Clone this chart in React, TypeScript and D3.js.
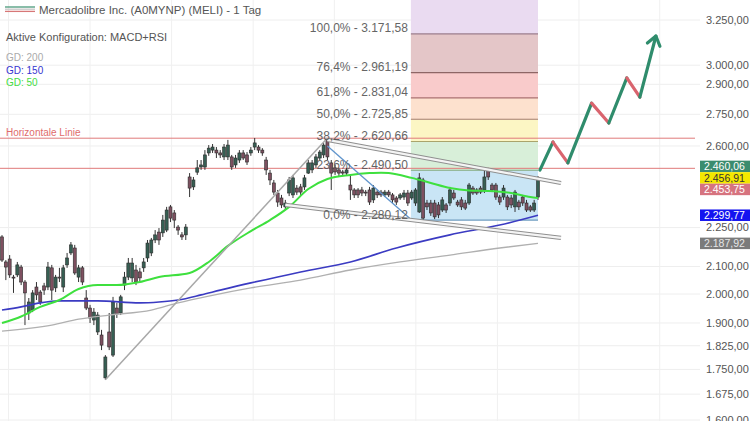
import React from "react";
import * as d3 from "d3";

const W = 750;
const H = 421;

// Daily candles (price values)
const openP = [2213,2117,2128,2061,2069,2098,2043,1934,1944,2025,
2007,2029,2025,2095,2022,2061,2025,2106,2151,2170,
2061,2095,1986,1951,1910,1870,1860,1724,1870,1795,
1951,1934,2032,2061,2058,2087,2080,2095,2132,2151,
2201,2232,2229,2240,2334,2309,2252,2221,2221,2461,
2418,2482,2505,2505,2568,2581,2581,2568,2550,2550,
2550,2514,2536,2568,2559,2568,2595,2595,2581,2536,
2478,2435,2392,2371,2334,2392,2384,2413,2418,2418,
2478,2492,2514,2545,2559,2628,2523,2501,2492,2483,
2478,2426,2405,2405,2405,2396,2405,2363,2396,2396,
2384,2396,2384,2371,2371,2375,2392,2371,2350,2313,
2448,2350,2350,2350,2342,2321,2342,2350,2392,2354,
2363,2350,2350,2413,2405,2413,2405,2492,2426,2426,
2375,2375,2375,2371,2334,2354,2375,2350,2334,2321,2375];
const highP = [2220,2124,2143,2069,2117,2106,2050,1986,2014,2043,
2014,2040,2117,2106,2069,2095,2106,2151,2193,2182,
2106,2102,2014,1962,1951,1937,1877,1795,1934,1990,
1969,1997,2080,2132,2132,2106,2095,2132,2201,2209,
2240,2248,2301,2334,2342,2321,2260,2232,2264,2478,
2461,2536,2536,2581,2604,2609,2595,2581,2609,2628,
2559,2559,2581,2581,2572,2595,2637,2604,2590,2550,
2492,2448,2405,2384,2363,2461,2470,2426,2431,2470,
2536,2536,2563,2581,2614,2637,2536,2514,2501,2492,
2501,2470,2413,2413,2418,2405,2418,2426,2405,2405,
2405,2405,2392,2379,2392,2405,2405,2405,2413,2478,
2457,2363,2363,2363,2354,2375,2350,2418,2405,2363,
2375,2363,2435,2422,2413,2422,2492,2501,2435,2435,
2384,2426,2384,2384,2405,2363,2384,2363,2342,2363,2465];
const lowP = [2117,2050,2058,2004,2061,2032,1893,1910,1937,1979,
1962,1997,2014,1979,2007,2043,2007,2095,2143,2069,
2043,2032,1944,1900,1893,1860,1811,1718,1811,1789,
1917,1927,2014,2050,2043,2032,2043,2080,2117,2139,
2189,2182,2213,2232,2272,2248,2221,2201,2201,2375,
2405,2470,2492,2492,2555,2568,2545,2545,2536,2536,
2492,2501,2523,2536,2514,2555,2581,2568,2555,2470,
2426,2384,2334,2329,2321,2379,2371,2384,2384,2405,
2474,2478,2501,2536,2545,2536,2405,2470,2465,2465,
2470,2363,2371,2371,2379,2379,2342,2350,2371,2375,
2375,2375,2350,2342,2363,2363,2338,2363,2338,2309,
2272,2321,2297,2284,2288,2313,2309,2338,2363,2334,
2321,2321,2342,2384,2384,2388,2392,2448,2396,2363,
2342,2363,2321,2329,2313,2321,2338,2313,2313,2313,2363];
const closeP = [2124,2098,2069,2058,2106,2043,2004,1972,2004,1997,
1972,2014,2098,2014,2061,2058,2095,2132,2182,2076,
2095,2043,1951,1917,1937,1927,1827,1789,1821,1972,
1931,1990,2061,2113,2113,2043,2058,2117,2189,2201,
2221,2201,2280,2321,2288,2280,2240,2213,2252,2413,
2448,2501,2514,2559,2590,2595,2568,2559,2595,2604,
2505,2545,2568,2545,2527,2581,2614,2581,2568,2492,
2448,2396,2354,2342,2350,2448,2457,2396,2396,2457,
2523,2523,2550,2572,2604,2550,2478,2483,2478,2478,
2492,2405,2384,2384,2392,2392,2354,2413,2384,2384,
2396,2384,2363,2354,2384,2392,2350,2396,2405,2457,
2288,2334,2309,2293,2301,2363,2321,2405,2371,2342,
2334,2329,2426,2392,2392,2396,2461,2461,2405,2375,
2354,2413,2334,2342,2396,2334,2350,2321,2321,2350,2453.75];

// Moving averages (sampled at candle indices)
const ma50Idx = [0,5,10,15,20,25,30,36,41,49,54,59,65,70,75,80,85,91,96,99,101,107,112,117,122,127,133,138,140];
const ma50Val = [1900,1922,1955,1979,2018,2032,2032,2043,2061,2076,2117,2178,2236,2280,2334,2409,2452,2470,2478,2480,2478,2457,2435,2413,2403,2401,2392,2375,2371];
const ma150Idx = [0,5,10,15,25,36,41,46,52,57,65,72,78,91,103,117,130,140];
const ma150Val = [1944,1955,1969,1976,1976,1969,1972,1979,1997,2014,2040,2061,2080,2117,2170,2221,2260,2299.77];
const ma200Idx = [0,13,20,28,39,46,54,65,78,91,104,117,130,140];
const ma200Val = [1873,1893,1913,1927,1944,1969,1993,2022,2050,2087,2117,2143,2170,2187.92];

// Drawn tools
const steepIdx = [27, 85];
const steepVal = [1718, 2637];
const descIdx = [85, 107];
const descVal = [2600, 2280];
const upperIdx = [85, 146];
const upperVal = [2628, 2435];
const lowerIdx = [74, 146];
const lowerVal = [2342, 2209];
const arrowIdx = [140.5, 143.9, 147.8, 154.0, 158.5, 163.2, 166.6, 170.8];
const arrowVal = [2491, 2618, 2523, 2805, 2708, 2933, 2835, 3159];

const hLines = [2636, 2499];

const yTicks = [3250, 3000, 2900, 2750, 2600, 2250, 2100, 2000, 1900, 1825, 1750, 1675, 1600];
const timeGridIdx = [1.7, 23, 44.3, 65.6, 86.8, 108.1, 129.4, 150.7, 171.8];

const fibPct = [0, 23.6, 38.2, 50, 61.8, 76.4, 100];
const fibPrices = [2280.12, 2490.5, 2620.66, 2725.85, 2831.04, 2961.19, 3171.58];
const fibFill = ["#c9e5f5", "#d8efd9", "#fcf6c4", "#fde1ce", "#f9cbcb", "#e4c6c8", "#eadbf1"];
const fibLine = ["#6f9cc0", "#7fa97f", "#aaa46c", "#a47e6c", "#aa7070", "#8e6666", "#9a7c8c"];
const fibStartIdx = 106.8;
const fibEndIdx = 140;

const badgeValues = [2460.06, 2456.91, 2453.75, 2299.77, 2187.92];
const badgeFill = ["#3a8c6e", "#f3e800", "#d6737f", "#1414f0", "#7b7b7b"];
const badgeText = ["#ffffff", "#333333", "#ffffff", "#ffffff", "#e6e6e6"];

const FONT = "'Liberation Sans', Arial, sans-serif";

const de = d3.formatLocale({ decimal: ",", thousands: ".", grouping: [3], currency: ["", "€"] });
const fmt2 = de.format(",.2f");
const fmt1 = de.format(".1f");

export default function App() {
  const x = d3.scaleLinear().domain([0, 140]).range([2, 538]);
  const y = d3.scaleLog().domain([1600, 3250]).range([420, 20]);

  const line = d3
    .line<[number, number]>()
    .x((d) => x(d[0]))
    .y((d) => y(d[1]))
    .curve(d3.curveMonotoneX);
  const straight = d3
    .line<[number, number]>()
    .x((d) => x(d[0]))
    .y((d) => y(d[1]));

  const zip = (a: number[], b: number[]) => a.map((v, i) => [v, b[i]] as [number, number]);

  // badge layout (resolve overlaps by grouping)
  const bh = 11.5;
  const order = badgeValues.map((v, i) => ({ i, y: y(v) })).sort((a, b) => a.y - b.y);
  const groups: { i: number; y: number }[][] = [];
  order.forEach((o) => {
    const g = groups[groups.length - 1];
    if (g && o.y - g[g.length - 1].y < bh) g.push(o);
    else groups.push([o]);
  });
  const badgeY: number[] = [];
  groups.forEach((g) => {
    const mean = d3.mean(g, (d) => d.y) as number;
    g.forEach((o, k) => {
      badgeY[o.i] = mean + (k - (g.length - 1) / 2) * bh;
    });
  });

  const fx0 = x(fibStartIdx);
  const fx1 = x(fibEndIdx);

  // arrow
  const ap = zip(arrowIdx, arrowVal);
  const last = ap[ap.length - 1];
  const prev = ap[ap.length - 2];
  const ang = Math.atan2(y(last[1]) - y(prev[1]), x(last[0]) - x(prev[0]));
  const tipX = x(last[0]);
  const tipY = y(last[1]);
  const hl = 11;

  return (
    <svg width={W} height={H} style={{ position: "absolute", left: 0, top: 0, background: "#fff" }} fontFamily={FONT}>
      {/* grid */}
      {yTicks.map((t) => (
        <line key={"g" + t} x1={0} x2={700} y1={y(t)} y2={y(t)} stroke="#eeeeee" strokeWidth={1} />
      ))}
      {timeGridIdx.map((t) => (
        <line key={"v" + t} x1={x(t)} x2={x(t)} y1={0} y2={H} stroke="#f0f0f0" strokeWidth={1} />
      ))}

      {/* fib bands */}
      {fibPrices.map((p, k) => {
        const top = k < fibPrices.length - 1 ? y(fibPrices[k + 1]) : 0;
        return <rect key={"fb" + k} x={fx0} width={fx1 - fx0} y={top} height={y(p) - top} fill={fibFill[k]} />;
      })}
      {fibPrices.map((p, k) => (
        <line key={"fl" + k} x1={fx0} x2={fx1} y1={y(p)} y2={y(p)} stroke={fibLine[k]} strokeWidth={1.2} />
      ))}

      {/* horizontal lines */}
      {hLines.map((h) => (
        <line key={"h" + h} x1={0} x2={695} y1={y(h)} y2={y(h)} stroke="#e07a7a" strokeWidth={1} />
      ))}
      <text x={6} y={y(hLines[0]) - 2} fontSize={10} fill="#e06b6b">Horizontale Linie</text>

      {/* candles */}
      {closeP.map((c, i) => {
        const o = openP[i];
        const bull = c >= o;
        const top = y(Math.max(o, c));
        const bot = y(Math.min(o, c));
        const cx = x(i);
        return (
          <g key={"c" + i}>
            <line x1={cx} x2={cx} y1={y(highP[i])} y2={y(lowP[i])} stroke="#333" strokeWidth={1} />
            <rect
              x={cx - 1.5}
              width={3}
              y={top}
              height={Math.max(1, bot - top)}
              fill={bull ? "#365f53" : "#7e5060"}
              stroke="#2b2b2b"
              strokeWidth={0.6}
            />
          </g>
        );
      })}

      {/* moving averages */}
      <path d={line(zip(ma200Idx, ma200Val)) || ""} fill="none" stroke="#b0b0b0" strokeWidth={1.3} />
      <path d={line(zip(ma150Idx, ma150Val)) || ""} fill="none" stroke="#3b3bc2" strokeWidth={1.6} />
      <path d={line(zip(ma50Idx, ma50Val)) || ""} fill="none" stroke="#3ee03e" strokeWidth={2} />

      {/* trend lines */}
      <path d={straight(zip(steepIdx, steepVal)) || ""} fill="none" stroke="#a8a8a8" strokeWidth={1.5} />
      <path d={straight(zip(descIdx, descVal)) || ""} fill="none" stroke="#5f94cc" strokeWidth={1.3} />
      {[zip(upperIdx, upperVal), zip(lowerIdx, lowerVal)].map((pts, k) => (
        <g key={"ch" + k}>
          <path d={straight(pts) || ""} fill="none" stroke="#8f8f8f" strokeWidth={4.2} />
          <path d={straight(pts) || ""} fill="none" stroke="#f4f4f4" strokeWidth={2.2} />
        </g>
      ))}

      {/* fib labels */}
      {fibPrices.map((p, k) => (
        <text key={"ft" + k} x={fx0 - 3} y={y(p) - 1.5} fontSize={12} fill="#555" textAnchor="end" opacity={0.9}>
          {fmt1(fibPct[k]) + "% - " + fmt2(p)}
        </text>
      ))}

      {/* projection arrow */}
      {ap.slice(1).map((pt, k) => {
        const a = ap[k];
        const up = pt[1] > a[1];
        return (
          <line
            key={"a" + k}
            x1={x(a[0])}
            y1={y(a[1])}
            x2={x(pt[0])}
            y2={y(pt[1])}
            stroke={up ? "#2f8c6c" : "#d9646e"}
            strokeWidth={3.2}
            strokeLinecap="round"
          />
        );
      })}
      <polyline
        points={`${tipX + hl * Math.cos(ang + Math.PI * 0.8)},${tipY + hl * Math.sin(ang + Math.PI * 0.8)} ${tipX},${tipY} ${tipX + hl * Math.cos(ang - Math.PI * 0.8)},${tipY + hl * Math.sin(ang - Math.PI * 0.8)}`}
        fill="none"
        stroke="#2f8c6c"
        strokeWidth={3.2}
        strokeLinecap="round"
        strokeLinejoin="round"
      />

      {/* y axis labels */}
      {yTicks.map((t) => (
        <text key={"t" + t} x={706} y={y(t)} dy="0.35em" fontSize={11} fill="#555">
          {fmt2(t)}
        </text>
      ))}

      {/* badges */}
      {badgeValues.map((v, i) => (
        <g key={"b" + i}>
          <rect x={700} y={badgeY[i] - bh / 2} width={50} height={bh} fill={badgeFill[i]} />
          <text x={704} y={badgeY[i]} dy="0.36em" fontSize={10.5} fill={badgeText[i]}>
            {fmt2(v)}
          </text>
        </g>
      ))}

      {/* title & legend */}
      <line x1={5} x2={35} y1={7} y2={7} stroke="#4a9a7a" strokeWidth={1.3} />
      <line x1={5} x2={35} y1={9.2} y2={9.2} stroke="#c8c8c8" strokeWidth={1.3} />
      <line x1={5} x2={35} y1={11.4} y2={11.4} stroke="#d77777" strokeWidth={1.3} />
      <text x={39} y={13.5} fontSize={11.5} fill="#555">Mercadolibre Inc. (A0MYNP) (MELI) - 1 Tag</text>
      <text x={6} y={40.5} fontSize={11} fill="#555">Aktive Konfiguration: MACD+RSI</text>
      <text x={6} y={60.5} fontSize={10} fill="#aaaaaa">GD: 200</text>
      <text x={6} y={73.5} fontSize={10} fill="#3434d0">GD: 150</text>
      <text x={6} y={86} fontSize={10} fill="#44dd44">GD: 50</text>
    </svg>
  );
}
